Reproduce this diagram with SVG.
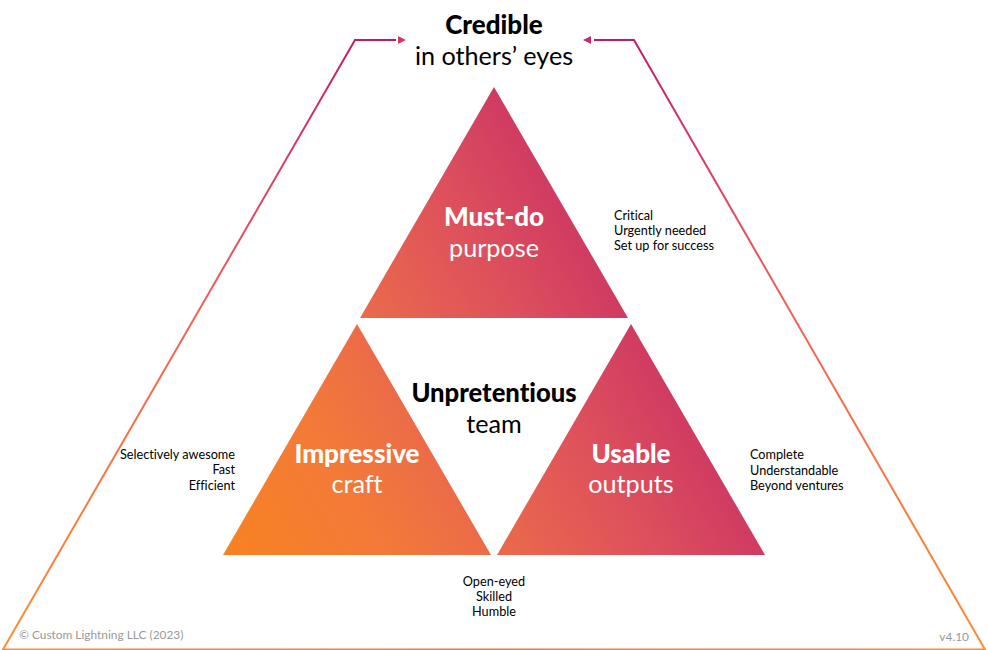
<svg xmlns="http://www.w3.org/2000/svg" width="988" height="650" viewBox="0 0 988 650">
<style>
text{font-family:Lato,"Liberation Sans",sans-serif;text-anchor:middle;font-variant-ligatures:none}
.h{font-size:26px;font-weight:900}
.u{font-size:25.6px}
.s{font-size:25.2px}
.w{fill:#fff}
.k{fill:#000}
.n{font-size:12.7px;fill:#000}
.st{text-anchor:start}
.en{text-anchor:end}
.c{font-size:11.9px;fill:#999}
.line{fill:none;stroke-width:2}
</style>
<defs>
<linearGradient id="tri" gradientUnits="userSpaceOnUse" x1="223" y1="555" x2="629" y2="320">
<stop offset="0" stop-color="#F88221"/><stop offset=".3" stop-color="#F37A38"/><stop offset=".55" stop-color="#E9674D"/><stop offset=".8" stop-color="#DD505C"/><stop offset="1" stop-color="#D03B62"/>
</linearGradient>
<linearGradient id="edgeL" gradientUnits="userSpaceOnUse" x1="3" y1="649" x2="396" y2="40">
<stop offset="0" stop-color="#FF8C33"/><stop offset=".55" stop-color="#F0605A"/><stop offset=".85" stop-color="#D0306A"/><stop offset="1" stop-color="#C0146E"/>
</linearGradient>
<linearGradient id="edgeR" gradientUnits="userSpaceOnUse" x1="985" y1="649" x2="592" y2="40">
<stop offset="0" stop-color="#FF8C33"/><stop offset=".55" stop-color="#F0605A"/><stop offset=".85" stop-color="#D0306A"/><stop offset="1" stop-color="#C0146E"/>
</linearGradient>
</defs>
<rect width="988" height="650" fill="#fff"/>
<g id="connectors">
<path class="line" stroke="url(#edgeL)" d="M494 649.500H3L355 40H396"/>
<path class="line" stroke="url(#edgeR)" d="M494 649.500H985L634 40H594"/>
<polygon points="398,36 406,40 398,44" fill="#D23A64"/>
<polygon points="591,36 583,40 591,44" fill="#C52A6B"/>
</g>
<g id="credible"><text class="h k" x="494" y="34">Credible</text><text class="s k" x="494" y="65">in others’ eyes</text></g>
<g id="must-do"><polygon points="494,87 628,318 360,318" fill="url(#tri)"/><text class="h w" x="494" y="226">Must-do</text><text class="s w" x="494" y="257">purpose</text></g>
<g id="impressive"><polygon points="357,324 491,555 223,555" fill="url(#tri)"/><text class="h w" x="357" y="463">Impressive</text><text class="s w" x="357" y="493">craft</text></g>
<g id="usable"><polygon points="631,324 765,555 497,555" fill="url(#tri)"/><text class="h w" x="631" y="463">Usable</text><text class="s w" x="631" y="493">outputs</text></g>
<g id="unpretentious"><text class="h u k" x="494" y="402">Unpretentious</text><text class="s k" x="494" y="433">team</text></g>
<g id="must-do-notes"><text class="n st" x="614" y="220">Critical</text><text class="n st" x="614" y="235">Urgently needed</text><text class="n st" x="614" y="250">Set up for success</text></g>
<g id="impressive-notes"><text class="n en" x="235" y="459">Selectively awesome</text><text class="n en" x="235" y="474">Fast</text><text class="n en" x="235" y="490">Efficient</text></g>
<g id="usable-notes"><text class="n st" x="750" y="459">Complete</text><text class="n st" x="750" y="475">Understandable</text><text class="n st" x="750" y="490">Beyond ventures</text></g>
<g id="team-notes"><text class="n" x="494" y="586">Open-eyed</text><text class="n" x="494" y="601">Skilled</text><text class="n" x="494" y="616">Humble</text></g>
<g id="footer"><text class="c st" x="19" y="639">© Custom Lightning LLC (2023)</text><text class="c en" x="969" y="641">v4.10</text></g>
</svg>
